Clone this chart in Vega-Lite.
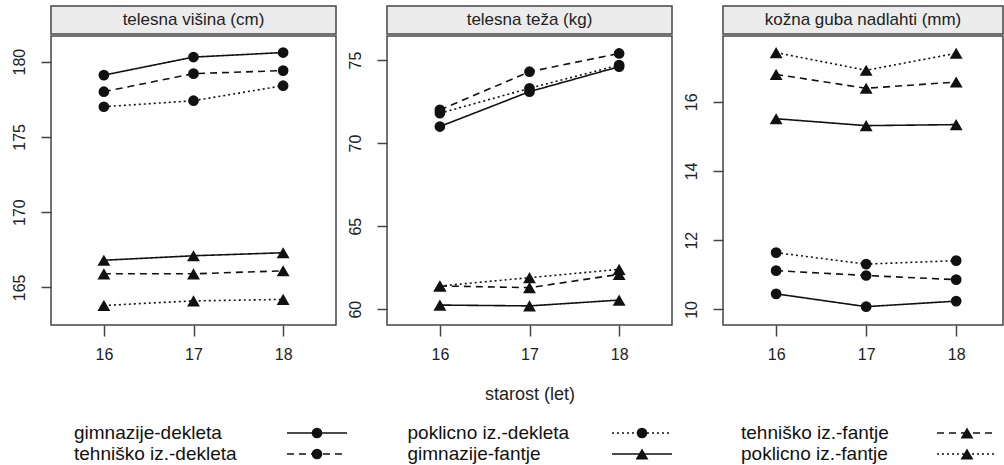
{
  "$schema": "https://vega.github.io/schema/vega-lite/v6.json",
  "padding": {"left": 10, "top": 5, "right": 0, "bottom": 0},
  "background": "white",
  "config": {
    "font": "Liberation Sans",
    "view": {"stroke": null},
    "axis": {"domain": false, "grid": false, "tickColor": "#444", "tickWidth": 1.5, "labelFontSize": 16, "labelColor": "#222", "titleFontSize": 18, "titleFontWeight": "normal", "titleColor": "#222"},
    "axisX": {"tickSize": 11, "labelPadding": 10},
    "axisY": {"tickSize": 10, "labelPadding": 14, "labelAngle": -90, "minExtent": 40, "maxExtent": 40}
  },
  "datasets": {
    "main": [
      {"panel": "visina", "starost": 16, "group": "gimnazije-dekleta", "value": 179.1},
      {"panel": "visina", "starost": 17, "group": "gimnazije-dekleta", "value": 180.3},
      {"panel": "visina", "starost": 18, "group": "gimnazije-dekleta", "value": 180.6},
      {"panel": "visina", "starost": 16, "group": "tehniško iz.-dekleta", "value": 178.0},
      {"panel": "visina", "starost": 17, "group": "tehniško iz.-dekleta", "value": 179.2},
      {"panel": "visina", "starost": 18, "group": "tehniško iz.-dekleta", "value": 179.4},
      {"panel": "visina", "starost": 16, "group": "poklicno iz.-dekleta", "value": 177.0},
      {"panel": "visina", "starost": 17, "group": "poklicno iz.-dekleta", "value": 177.4},
      {"panel": "visina", "starost": 18, "group": "poklicno iz.-dekleta", "value": 178.4},
      {"panel": "visina", "starost": 16, "group": "gimnazije-fantje", "value": 166.8},
      {"panel": "visina", "starost": 17, "group": "gimnazije-fantje", "value": 167.1},
      {"panel": "visina", "starost": 18, "group": "gimnazije-fantje", "value": 167.3},
      {"panel": "visina", "starost": 16, "group": "tehniško iz.-fantje", "value": 165.9},
      {"panel": "visina", "starost": 17, "group": "tehniško iz.-fantje", "value": 165.9},
      {"panel": "visina", "starost": 18, "group": "tehniško iz.-fantje", "value": 166.1},
      {"panel": "visina", "starost": 16, "group": "poklicno iz.-fantje", "value": 163.8},
      {"panel": "visina", "starost": 17, "group": "poklicno iz.-fantje", "value": 164.1},
      {"panel": "visina", "starost": 18, "group": "poklicno iz.-fantje", "value": 164.2},
      {"panel": "teza", "starost": 16, "group": "gimnazije-dekleta", "value": 71.0},
      {"panel": "teza", "starost": 17, "group": "gimnazije-dekleta", "value": 73.1},
      {"panel": "teza", "starost": 18, "group": "gimnazije-dekleta", "value": 74.6},
      {"panel": "teza", "starost": 16, "group": "tehniško iz.-dekleta", "value": 72.0},
      {"panel": "teza", "starost": 17, "group": "tehniško iz.-dekleta", "value": 74.3},
      {"panel": "teza", "starost": 18, "group": "tehniško iz.-dekleta", "value": 75.4},
      {"panel": "teza", "starost": 16, "group": "poklicno iz.-dekleta", "value": 71.8},
      {"panel": "teza", "starost": 17, "group": "poklicno iz.-dekleta", "value": 73.3},
      {"panel": "teza", "starost": 18, "group": "poklicno iz.-dekleta", "value": 74.7},
      {"panel": "teza", "starost": 16, "group": "gimnazije-fantje", "value": 60.25},
      {"panel": "teza", "starost": 17, "group": "gimnazije-fantje", "value": 60.2},
      {"panel": "teza", "starost": 18, "group": "gimnazije-fantje", "value": 60.55},
      {"panel": "teza", "starost": 16, "group": "tehniško iz.-fantje", "value": 61.4},
      {"panel": "teza", "starost": 17, "group": "tehniško iz.-fantje", "value": 61.3},
      {"panel": "teza", "starost": 18, "group": "tehniško iz.-fantje", "value": 62.1},
      {"panel": "teza", "starost": 16, "group": "poklicno iz.-fantje", "value": 61.4},
      {"panel": "teza", "starost": 17, "group": "poklicno iz.-fantje", "value": 61.9},
      {"panel": "teza", "starost": 18, "group": "poklicno iz.-fantje", "value": 62.4},
      {"panel": "guba", "starost": 16, "group": "gimnazije-dekleta", "value": 10.45},
      {"panel": "guba", "starost": 17, "group": "gimnazije-dekleta", "value": 10.08},
      {"panel": "guba", "starost": 18, "group": "gimnazije-dekleta", "value": 10.24},
      {"panel": "guba", "starost": 16, "group": "tehniško iz.-dekleta", "value": 11.12},
      {"panel": "guba", "starost": 17, "group": "tehniško iz.-dekleta", "value": 10.98},
      {"panel": "guba", "starost": 18, "group": "tehniško iz.-dekleta", "value": 10.86},
      {"panel": "guba", "starost": 16, "group": "poklicno iz.-dekleta", "value": 11.64},
      {"panel": "guba", "starost": 17, "group": "poklicno iz.-dekleta", "value": 11.31},
      {"panel": "guba", "starost": 18, "group": "poklicno iz.-dekleta", "value": 11.41},
      {"panel": "guba", "starost": 16, "group": "gimnazije-fantje", "value": 15.51},
      {"panel": "guba", "starost": 17, "group": "gimnazije-fantje", "value": 15.31},
      {"panel": "guba", "starost": 18, "group": "gimnazije-fantje", "value": 15.34},
      {"panel": "guba", "starost": 16, "group": "tehniško iz.-fantje", "value": 16.79},
      {"panel": "guba", "starost": 17, "group": "tehniško iz.-fantje", "value": 16.39},
      {"panel": "guba", "starost": 18, "group": "tehniško iz.-fantje", "value": 16.57},
      {"panel": "guba", "starost": 16, "group": "poklicno iz.-fantje", "value": 17.42},
      {"panel": "guba", "starost": 17, "group": "poklicno iz.-fantje", "value": 16.91},
      {"panel": "guba", "starost": 18, "group": "poklicno iz.-fantje", "value": 17.40}
    ],
    "legend": [
      {"group": "gimnazije-dekleta", "col": 1, "row": 1},
      {"group": "tehniško iz.-dekleta", "col": 1, "row": 2},
      {"group": "poklicno iz.-dekleta", "col": 2, "row": 1},
      {"group": "gimnazije-fantje", "col": 2, "row": 2},
      {"group": "tehniško iz.-fantje", "col": 3, "row": 1},
      {"group": "poklicno iz.-fantje", "col": 3, "row": 2}
    ]
  },
  "spacing": 19,
  "vconcat": [
    {
      "spacing": 9,
      "hconcat": [
        {
          "spacing": 0,
          "vconcat": [
            {"width": 285, "height": 28, "view": {"fill": "#ececec", "stroke": "#444", "strokeWidth": 1.5},
             "data": {"values": [{"title": "telesna višina (cm)"}]},
             "mark": {"type": "text", "fontSize": 17, "color": "#222", "baseline": "middle"},
             "encoding": {"text": {"field": "title"}}},
            {"width": 285, "height": 289, "view": {"stroke": "#444", "strokeWidth": 1.5},
             "data": {"name": "main"},
             "transform": [{"filter": "datum.panel === 'visina'"}],
             "encoding": {
               "x": {"field": "starost", "type": "quantitative", "scale": {"domain": [15.41, 18.59], "nice": false, "zero": false}, "axis": {"title": null, "values": [16, 17, 18], "format": "d"}},
               "y": {"field": "value", "type": "quantitative", "scale": {"domain": [162.5, 181.7], "nice": false, "zero": false}, "axis": {"title": null, "values": [165, 170, 175, 180]}}
             },
             "layer": [
               {"mark": {"type": "line", "color": "#111", "strokeWidth": 1.6},
                "encoding": {"strokeDash": {"field": "group", "type": "nominal", "legend": null,
                  "scale": {"domain": ["gimnazije-dekleta", "tehniško iz.-dekleta", "poklicno iz.-dekleta", "gimnazije-fantje", "tehniško iz.-fantje", "poklicno iz.-fantje"], "range": [[1, 0], [7, 5], [2, 3], [1, 0], [7, 5], [2, 3]]}}}},
               {"mark": {"type": "point", "filled": true, "color": "#111", "opacity": 1},
                "encoding": {
                  "shape": {"field": "group", "type": "nominal", "legend": null,
                    "scale": {"domain": ["gimnazije-dekleta", "tehniško iz.-dekleta", "poklicno iz.-dekleta", "gimnazije-fantje", "tehniško iz.-fantje", "poklicno iz.-fantje"], "range": ["circle", "circle", "circle", "triangle-up", "triangle-up", "triangle-up"]}},
                  "size": {"field": "group", "type": "nominal", "legend": null,
                    "scale": {"type": "ordinal", "domain": ["gimnazije-dekleta", "tehniško iz.-dekleta", "poklicno iz.-dekleta", "gimnazije-fantje", "tehniško iz.-fantje", "poklicno iz.-fantje"], "range": [115, 115, 115, 165, 165, 165]}}
                }}
             ]}
          ]
        },
        {
          "spacing": 0,
          "vconcat": [
            {"width": 285, "height": 28, "view": {"fill": "#ececec", "stroke": "#444", "strokeWidth": 1.5},
             "data": {"values": [{"title": "telesna teža (kg)"}]},
             "mark": {"type": "text", "fontSize": 17, "color": "#222", "baseline": "middle"},
             "encoding": {"text": {"field": "title"}}},
            {"width": 285, "height": 289, "view": {"stroke": "#444", "strokeWidth": 1.5},
             "data": {"name": "main"},
             "transform": [{"filter": "datum.panel === 'teza'"}],
             "encoding": {
               "x": {"field": "starost", "type": "quantitative", "scale": {"domain": [15.41, 18.59], "nice": false, "zero": false}, "axis": {"title": "starost (let)", "titlePadding": 23, "values": [16, 17, 18], "format": "d"}},
               "y": {"field": "value", "type": "quantitative", "scale": {"domain": [59.05, 76.45], "nice": false, "zero": false}, "axis": {"title": null, "values": [60, 65, 70, 75]}}
             },
             "layer": [
               {"mark": {"type": "line", "color": "#111", "strokeWidth": 1.6},
                "encoding": {"strokeDash": {"field": "group", "type": "nominal", "legend": null,
                  "scale": {"domain": ["gimnazije-dekleta", "tehniško iz.-dekleta", "poklicno iz.-dekleta", "gimnazije-fantje", "tehniško iz.-fantje", "poklicno iz.-fantje"], "range": [[1, 0], [7, 5], [2, 3], [1, 0], [7, 5], [2, 3]]}}}},
               {"mark": {"type": "point", "filled": true, "color": "#111", "opacity": 1},
                "encoding": {
                  "shape": {"field": "group", "type": "nominal", "legend": null,
                    "scale": {"domain": ["gimnazije-dekleta", "tehniško iz.-dekleta", "poklicno iz.-dekleta", "gimnazije-fantje", "tehniško iz.-fantje", "poklicno iz.-fantje"], "range": ["circle", "circle", "circle", "triangle-up", "triangle-up", "triangle-up"]}},
                  "size": {"field": "group", "type": "nominal", "legend": null,
                    "scale": {"type": "ordinal", "domain": ["gimnazije-dekleta", "tehniško iz.-dekleta", "poklicno iz.-dekleta", "gimnazije-fantje", "tehniško iz.-fantje", "poklicno iz.-fantje"], "range": [115, 115, 115, 165, 165, 165]}}
                }}
             ]}
          ]
        },
        {
          "spacing": 0,
          "vconcat": [
            {"width": 280, "height": 28, "view": {"fill": "#ececec", "stroke": "#444", "strokeWidth": 1.5},
             "data": {"values": [{"title": "kožna guba nadlahti (mm)"}]},
             "mark": {"type": "text", "fontSize": 17, "color": "#222", "baseline": "middle"},
             "encoding": {"text": {"field": "title"}}},
            {"width": 280, "height": 289, "view": {"stroke": "#444", "strokeWidth": 1.5},
             "data": {"name": "main"},
             "transform": [{"filter": "datum.panel === 'guba'"}],
             "encoding": {
               "x": {"field": "starost", "type": "quantitative", "scale": {"domain": [15.41, 18.52], "nice": false, "zero": false}, "axis": {"title": null, "values": [16, 17, 18], "format": "d"}},
               "y": {"field": "value", "type": "quantitative", "scale": {"domain": [9.55, 17.9], "nice": false, "zero": false}, "axis": {"title": null, "values": [10, 12, 14, 16]}}
             },
             "layer": [
               {"mark": {"type": "line", "color": "#111", "strokeWidth": 1.6},
                "encoding": {"strokeDash": {"field": "group", "type": "nominal", "legend": null,
                  "scale": {"domain": ["gimnazije-dekleta", "tehniško iz.-dekleta", "poklicno iz.-dekleta", "gimnazije-fantje", "tehniško iz.-fantje", "poklicno iz.-fantje"], "range": [[1, 0], [7, 5], [2, 3], [1, 0], [7, 5], [2, 3]]}}}},
               {"mark": {"type": "point", "filled": true, "color": "#111", "opacity": 1},
                "encoding": {
                  "shape": {"field": "group", "type": "nominal", "legend": null,
                    "scale": {"domain": ["gimnazije-dekleta", "tehniško iz.-dekleta", "poklicno iz.-dekleta", "gimnazije-fantje", "tehniško iz.-fantje", "poklicno iz.-fantje"], "range": ["circle", "circle", "circle", "triangle-up", "triangle-up", "triangle-up"]}},
                  "size": {"field": "group", "type": "nominal", "legend": null,
                    "scale": {"type": "ordinal", "domain": ["gimnazije-dekleta", "tehniško iz.-dekleta", "poklicno iz.-dekleta", "gimnazije-fantje", "tehniško iz.-fantje", "poklicno iz.-fantje"], "range": [115, 115, 115, 165, 165, 165]}}
                }}
             ]}
          ]
        }
      ]
    },
    {
      "width": 940,
      "height": 41,
      "data": {"name": "legend"},
      "encoding": {
        "y": {"field": "row", "type": "ordinal", "scale": {"type": "point", "range": [10, 31], "padding": 0}, "axis": null}
      },
      "layer": [
        {"mark": {"type": "text", "align": "left", "baseline": "middle", "fontSize": 19, "color": "#111"},
         "encoding": {
           "x": {"field": "col", "type": "ordinal", "scale": {"type": "point", "range": [23, 690], "padding": 0}, "axis": null},
           "text": {"field": "group"}
         }},
        {
          "encoding": {
            "x": {"field": "col", "type": "ordinal", "scale": {"type": "point", "range": [236, 886], "padding": 0}, "axis": null}
          },
          "layer": [
            {"mark": {"type": "rule", "x2Offset": 60, "strokeWidth": 1.6, "color": "#111"},
             "encoding": {
               "x2": {"field": "col"},
               "strokeDash": {"field": "group", "type": "nominal", "legend": null,
                 "scale": {"domain": ["gimnazije-dekleta", "tehniško iz.-dekleta", "poklicno iz.-dekleta", "gimnazije-fantje", "tehniško iz.-fantje", "poklicno iz.-fantje"], "range": [[1, 0], [5, 4], [2, 2], [1, 0], [5, 4], [2, 2]]}}
             }},
            {"mark": {"type": "point", "filled": true, "color": "#111", "opacity": 1, "xOffset": 30},
             "encoding": {
               "shape": {"field": "group", "type": "nominal", "legend": null,
                 "scale": {"domain": ["gimnazije-dekleta", "tehniško iz.-dekleta", "poklicno iz.-dekleta", "gimnazije-fantje", "tehniško iz.-fantje", "poklicno iz.-fantje"], "range": ["circle", "circle", "circle", "triangle-up", "triangle-up", "triangle-up"]}},
               "size": {"field": "group", "type": "nominal", "legend": null,
                 "scale": {"type": "ordinal", "domain": ["gimnazije-dekleta", "tehniško iz.-dekleta", "poklicno iz.-dekleta", "gimnazije-fantje", "tehniško iz.-fantje", "poklicno iz.-fantje"], "range": [70, 70, 70, 100, 100, 100]}}
             }}
          ]
        }
      ],
      "resolve": {"scale": {"x": "independent"}}
    }
  ]
}
